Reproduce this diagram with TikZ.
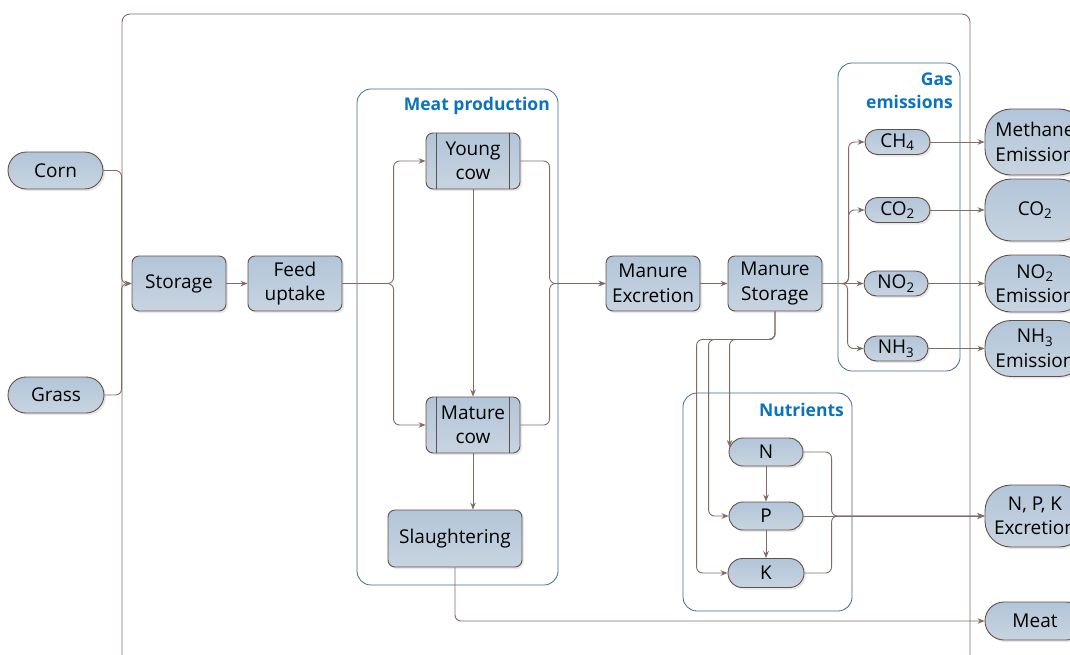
\documentclass[tikz,border=0pt]{standalone}
\usepackage{fontspec}
\setmainfont{Open Sans}
\usetikzlibrary{positioning, calc, arrows.meta, shadows}
\definecolor{FlowFillTop}{HTML}{B2C5D9}
\definecolor{FlowFillBot}{HTML}{C8D4E0}
\definecolor{FlowBorder}{HTML}{5F524D}
\definecolor{FlowLine}{HTML}{806B65}
\definecolor{GroupBorder}{HTML}{41698F}
\definecolor{GroupTitle}{HTML}{0B72BE}

\tikzset{
  box/.style={rectangle, rounded corners=7pt, draw=FlowBorder, line width=0.9pt,
    top color=FlowFillTop, bottom color=FlowFillBot,
    drop shadow={opacity=0.18, shadow xshift=2pt, shadow yshift=-2pt},
    align=center, font=\fontsize{19}{24.5}\selectfont, inner sep=2pt,
    minimum width=94pt, minimum height=55pt},
  pill/.style={box, rounded corners=#1, minimum height=2*#1},
  outbox/.style={box, rounded corners=26pt, minimum width=100pt},
  grouptitle/.style={text=GroupTitle, font=\fontsize{17.5}{23}\selectfont\bfseries, align=right, inner sep=0pt},
  group/.style={draw=GroupBorder, line width=0.8pt, rounded corners=14pt},
  conn/.style={draw=FlowLine, line width=0.9pt, rounded corners=6pt, -{Stealth[length=7pt, width=5.5pt]}}
}

\begin{document}
\begin{tikzpicture}[x=1pt, y=-1pt]
  \useasboundingbox (0,0) rectangle (1070,654);
  \clip (0,0) rectangle (1070,654);
  %% Outer frame
  \draw[FlowLine, line width=0.9pt, rounded corners=8pt] (122,670) -- (122,14) -- (970,14) -- (970,670);
  %% Groups
  \draw[group] (357,89) rectangle (558,585);
  \node[grouptitle, anchor=east] (meattitle) at (550,106) {Meat production};
  \draw[group] (838,63) rectangle (960,371);
  \node[grouptitle, anchor=north east] (gastitle) at (953,73) {Gas\\emissions};
  \draw[group] (683,393) rectangle (852,611);
  \node[grouptitle, anchor=east] (nuttitle) at (844,410) {Nutrients};

  %% Feed side
  \node[pill=18.5pt, minimum width=95pt] (corn) at (55.5,170.5) {Corn};
  \node[pill=18pt, minimum width=96pt] (grass) at (56,395) {Grass};
  \node[box] (storage) at (179,283.5) {Storage};
  \node[box] (feed) at (295,283.5) {Feed\\uptake};

  %% Meat production
  \node[box, minimum height=56pt] (young) at (473,161) {Young\\cow};
  \node[box, minimum height=56pt] (mature) at (473,425) {Mature\\cow};
  \foreach \cow in {young, mature} {
    \draw[FlowBorder, line width=0.9pt] ([xshift=11pt]\cow.north west) -- ([xshift=11pt]\cow.south west);
    \draw[FlowBorder, line width=0.9pt] ([xshift=-11pt]\cow.north east) -- ([xshift=-11pt]\cow.south east);
  }
  \node[box, minimum width=134pt, minimum height=57pt] (slaughter) at (455,538.5) {Slaughtering};

  %% Manure
  \node[box] (manexc) at (653,283.5) {Manure\\Excretion};
  \node[box] (manstor) at (775,283.5) {Manure\\Storage};

  %% Gases
  \node[pill=12.5pt, minimum width=65pt] (ch4) at (897.5,142) {CH\textsubscript{4}};
  \node[pill=12.5pt, minimum width=65pt] (co2) at (897.5,210) {CO\textsubscript{2}};
  \node[pill=12.5pt, minimum width=64pt] (no2) at (896,283.5) {NO\textsubscript{2}};
  \node[pill=12.5pt, minimum width=64pt] (nh3) at (896,348.5) {NH\textsubscript{3}};

  %% Nutrients
  \node[pill=14pt, minimum width=74pt] (n) at (766,452) {N};
  \node[pill=14pt, minimum width=74pt] (p) at (766,516) {P};
  \node[pill=14.5pt, minimum width=76pt] (k) at (766,573) {K};

  %% Outputs
  \node[outbox, minimum height=66pt] (methane) at (1035,142) {Methane\\Emission};
  \node[outbox, minimum height=62pt] (co2out) at (1035,210) {CO\textsubscript{2}};
  \node[outbox, minimum height=57pt] (no2out) at (1035,283.5) {NO\textsubscript{2}\\Emission};
  \node[outbox, minimum height=56pt] (nh3out) at (1035,348.5) {NH\textsubscript{3}\\Emission};
  \node[outbox, minimum height=62pt] (npkout) at (1035,516) {N, P, K\\Excretion};
  \node[pill=19pt, minimum width=100pt] (meatout) at (1035,621) {Meat};

  %% Connectors
  \draw[conn] (corn.east) -| ([xshift=-10pt]storage.west) -- (storage.west);
  \draw[conn] (grass.east) -| ([xshift=-10pt]storage.west) -- (storage.west);
  \draw[conn] (storage) -- (feed);
  \draw[conn] (feed.east) -| ([xshift=-32pt]young.west) -- (young.west);
  \draw[conn] (feed.east) -| ([xshift=-32pt]mature.west) -- (mature.west);
  \draw[conn] (young) -- (mature);
  \draw[conn] (mature.south) -- (mature.south |- slaughter.north);
  \draw[conn] (young.east) -| ([xshift=-56pt]manexc.west) -- (manexc.west);
  \draw[conn] (mature.east) -| ([xshift=-56pt]manexc.west) -- (manexc.west);
  \draw[conn] (manexc) -- (manstor);
  \foreach \gas in {ch4, co2, nh3}
    \draw[conn] (manstor.east) -| ([xshift=-16pt]\gas.west) -- (\gas.west);
  \draw[conn] (manstor.east) -- (no2.west);
  \draw[conn] (ch4) -- (methane);
  \draw[conn] (co2) -- (co2out);
  \draw[conn] (no2) -- (no2out);
  \draw[conn] (nh3) -- (nh3out);
  %% Manure storage to nutrients
  \draw[conn] (manstor.south) -- ++(0,28) -| ([xshift=1pt,yshift=5pt]n.west);
  \draw[conn] (manstor.south) -- ++(0,28) -| ([xshift=-20pt]p.west) -- (p.west);
  \draw[conn] (manstor.south) -- ++(0,28) -| ([xshift=-31pt]k.west) -- (k.west);
  \draw[conn] (n) -- (p);
  \draw[conn] (p) -- (k);
  \draw[conn] (n.east) -| ([xshift=-153pt]npkout.west) -- (npkout.west);
  \draw[conn] (p.east) -- (npkout.west);
  \draw[conn] (k.east) -| ([xshift=-153pt]npkout.west) -- (npkout.west);
  \draw[conn] (slaughter.south) |- (meatout.west);
\end{tikzpicture}
\end{document}
